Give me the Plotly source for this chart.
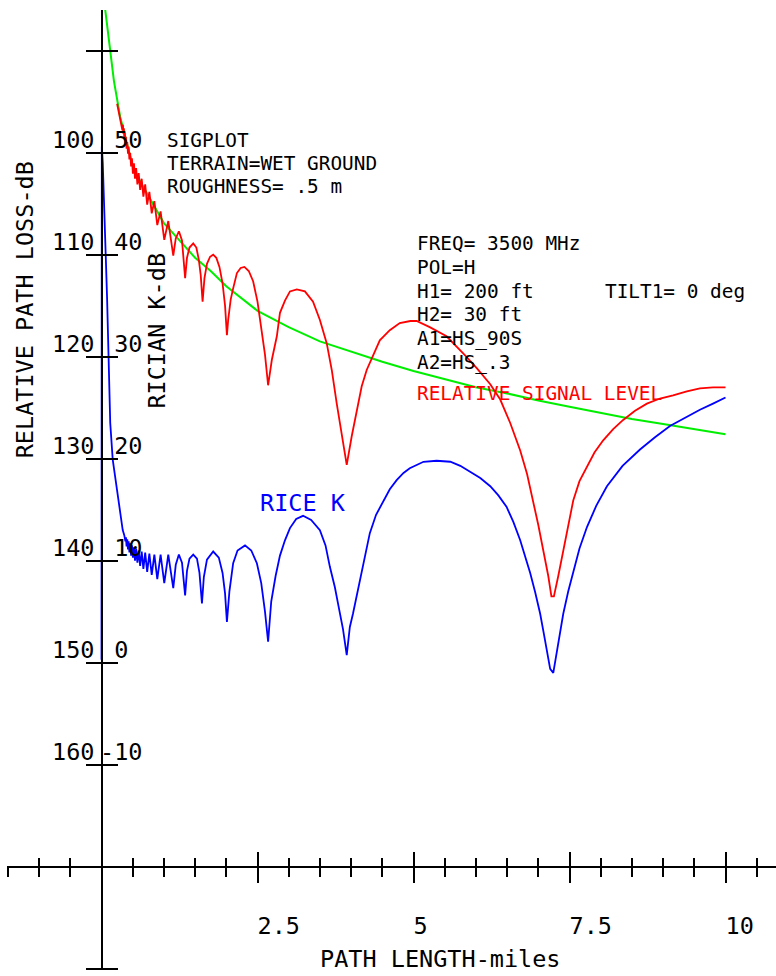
import plotly.graph_objects as go

# ---- data -------------------------------------------------------------
# smooth path-loss trend (green), miles vs relative loss in dB
trend_x = [0.05, 0.10, 0.15, 0.20, 0.30, 0.40, 0.50, 0.60, 0.80, 1.00, 1.25, 1.50,
           1.75, 2.00, 2.50, 3.00, 3.50, 4.00, 4.50, 5.00, 5.50, 6.00, 6.50, 7.00,
           7.50, 8.00, 8.50, 9.00, 9.50, 10.00]
trend_loss = [85.5, 88.0, 91.0, 93.0, 96.5, 99.0, 101.3, 102.6, 104.8, 106.9, 108.6, 110.3,
              111.6, 113.1, 115.5, 117.1, 118.5, 119.5, 120.5, 121.4, 122.2, 123.0, 123.6, 124.3,
              124.9, 125.5, 126.1, 126.6, 127.1, 127.6]

# relative signal level (red), miles vs relative loss in dB
signal_x = [0.25, 0.29, 0.31, 0.322, 0.335, 0.343, 0.35, 0.358, 0.366, 0.375, 0.383, 0.392,
            0.402, 0.413, 0.424, 0.435, 0.447, 0.46, 0.474, 0.488, 0.503, 0.52, 0.537, 0.555,
            0.575, 0.596, 0.619, 0.644, 0.671, 0.70, 0.732, 0.767, 0.805, 0.847, 0.894, 0.947,
            1.006, 1.07, 1.15, 1.19, 1.24, 1.29, 1.34, 1.37, 1.41, 1.47, 1.52, 1.56,
            1.59, 1.62, 1.65, 1.69, 1.74, 1.79, 1.84, 1.89, 1.94, 1.98, 2.01, 2.03,
            2.07, 2.11, 2.17, 2.23, 2.29, 2.36, 2.43, 2.50, 2.54, 2.58, 2.62, 2.67,
            2.73, 2.81, 2.86, 2.94, 3.02, 3.13, 3.26, 3.39, 3.50, 3.61, 3.69, 3.77,
            3.85, 3.93, 4.01, 4.09, 4.17, 4.25, 4.36, 4.46, 4.62, 4.78, 4.95, 5.05,
            5.26, 5.53, 5.80, 6.01, 6.23, 6.39, 6.55, 6.71, 6.82, 6.92, 7.00, 7.08,
            7.16, 7.21, 7.25, 7.32, 7.40, 7.48, 7.56, 7.66, 7.78, 7.90, 8.04, 8.20,
            8.36, 8.55, 8.74, 8.95, 9.16, 9.38, 9.59, 9.80, 10.00]
signal_loss = [95.2, 96.3, 96.9, 97.3, 97.8, 97.25, 98.15, 97.6, 98.6, 98.05, 99.1, 98.45,
               99.6, 98.95, 100.1, 99.4, 100.65, 100.0, 101.35, 100.55, 102.05, 101.05, 102.55, 101.5,
               103.1, 102.0, 103.65, 102.55, 104.3, 103.1, 105.1, 103.85, 105.95, 104.75, 107.1, 105.75,
               108.55, 106.7, 110.1, 108.4, 107.7, 108.6, 112.3, 110.3, 109.3, 108.9, 109.3, 110.5,
               112.0, 114.6, 112.3, 110.9, 110.2, 110.0, 110.3, 111.2, 112.8, 115.0, 117.9, 116.4,
               114.4, 113.3, 111.8, 111.3, 111.2, 111.6, 112.6, 114.6, 116.4, 118.0, 119.8, 122.8,
               120.3, 118.0, 115.7, 114.5, 113.6, 113.4, 113.6, 114.6, 116.4, 118.7, 121.3, 124.6,
               127.5, 130.6, 127.8, 125.2, 122.9, 121.3, 119.7, 118.4, 117.4, 116.7, 116.5, 116.5,
               117.1, 118.0, 119.7, 121.1, 122.7, 124.2, 126.5, 129.2, 131.5, 134.1, 136.5, 139.0,
               141.5, 143.5, 143.5, 141.5, 139.0, 136.5, 134.1, 132.2, 130.8, 129.4, 128.2, 127.1,
               126.2, 125.3, 124.6, 124.1, 123.8, 123.4, 123.1, 123.0, 123.0]

# Rician K factor (blue), miles vs K in dB
rice_x = [0.0, 0.005, 0.02, 0.05, 0.07, 0.09, 0.11, 0.14, 0.18, 0.24, 0.30, 0.34,
          0.365, 0.383, 0.392, 0.402, 0.413, 0.424, 0.435, 0.447, 0.46, 0.474, 0.488, 0.503,
          0.52, 0.537, 0.555, 0.575, 0.596, 0.619, 0.644, 0.671, 0.70, 0.732, 0.767, 0.805,
          0.847, 0.894, 0.947, 1.006, 1.07, 1.15, 1.19, 1.24, 1.29, 1.34, 1.37, 1.41,
          1.47, 1.53, 1.57, 1.61, 1.64, 1.69, 1.79, 1.88, 1.94, 1.98, 2.01, 2.05,
          2.11, 2.18, 2.30, 2.40, 2.49, 2.56, 2.62, 2.67, 2.72, 2.79, 2.86, 2.94,
          3.02, 3.12, 3.23, 3.36, 3.50, 3.59, 3.66, 3.74, 3.80, 3.87, 3.93, 3.98,
          4.03, 4.14, 4.22, 4.30, 4.40, 4.52, 4.62, 4.73, 4.84, 4.94, 5.05, 5.16,
          5.37, 5.59, 5.75, 5.91, 6.07, 6.23, 6.36, 6.49, 6.60, 6.71, 6.79, 6.87,
          6.95, 7.03, 7.09, 7.14, 7.19, 7.24, 7.29, 7.35, 7.40, 7.48, 7.56, 7.66,
          7.78, 7.93, 8.10, 8.35, 8.63, 8.87, 9.11, 9.35, 9.59, 9.80, 10.00]
rice_k = [0.3, 50.6, 49.0, 44.4, 39.5, 35.6, 30.7, 23.5, 19.9, 17.3, 14.7, 13.0,
          12.5, 11.9, 12.3, 11.4, 12.1, 11.1, 11.9, 10.8, 11.7, 10.5, 11.5, 10.3,
          11.3, 10.0, 11.2, 9.8, 11.0, 9.5, 10.9, 9.2, 10.8, 8.9, 10.7, 8.6,
          10.6, 8.2, 10.6, 7.8, 10.6, 7.3, 9.6, 10.6, 9.8, 6.6, 9.0, 10.2,
          10.6, 10.2, 8.8, 5.8, 8.4, 10.1, 10.9, 10.3, 8.8, 6.8, 4.0, 7.0,
          9.75, 11.0, 11.5, 11.0, 9.75, 7.8, 5.0, 2.06, 6.0, 8.5, 10.5, 12.0,
          13.2, 14.1, 14.4, 14.0, 13.0, 11.5, 9.4, 7.4, 5.5, 3.3, 0.75, 3.5,
          4.8, 8.1, 10.5, 12.7, 14.5, 15.95, 17.0, 17.9, 18.6, 19.06, 19.4, 19.7,
          19.8, 19.7, 19.3, 18.7, 18.1, 17.3, 16.4, 15.3, 13.8, 12.0, 10.4, 8.8,
          6.9, 4.8, 2.8, 0.9, -0.6, -1.0, 0.9, 3.0, 4.8, 7.0, 8.8, 11.2,
          13.3, 15.4, 17.3, 19.3, 20.9, 22.1, 23.2, 24.0, 24.8, 25.4, 26.0]

LOSS_TICKS = [100, 110, 120, 130, 140, 150, 160]
K_TICKS = [50, 40, 30, 20, 10, 0, -10]
MILE_TICKS = [2.5, 5, 7.5, 10]

# ---- page geometry ----------------------------------------------------
W, H = 776, 976
X0_PX, PX_PER_MILE = 101.5, 62.4      # x = 0 at the vertical axis
Y100_PX, PX_PER_DB = 152.7, 10.2      # 100 dB loss tick
AXIS_LEFT_PX, AXIS_TOP_PX, AXIS_BOTTOM_PX = 7, 10, 970

x_lo = (AXIS_LEFT_PX - X0_PX) / PX_PER_MILE
x_hi = (W - X0_PX) / PX_PER_MILE
loss_top = 100 + (AXIS_TOP_PX - Y100_PX) / PX_PER_DB
loss_bot = 100 + (AXIS_BOTTOM_PX - Y100_PX) / PX_PER_DB
K_OFFSET = 150                         # K(dB) = 150 - loss(dB)
XAXIS_LOSS = 170                       # horizontal axis drawn at this loss level

FONT = "DejaVu Sans Mono"
FS = 23.5          # axis labels and titles
FS_NOTE = 19.4     # stacked parameter lines
NB = "\u00a0"

fig = go.Figure()
fig.add_trace(go.Scatter(x=trend_x, y=trend_loss, mode="lines",
                         line=dict(color="#00ee00", width=2), yaxis="y"))
fig.add_trace(go.Scatter(x=signal_x, y=signal_loss, mode="lines",
                         line=dict(color="#ff0000", width=1.8), yaxis="y"))
fig.add_trace(go.Scatter(x=rice_x, y=rice_k, mode="lines",
                         line=dict(color="#0000ff", width=1.8), yaxis="y2"))
# keeps the overlay axes (upper / right halves of the cross ticks) alive
fig.add_trace(go.Scatter(x=[None], y=[None], xaxis="x2", yaxis="y3", showlegend=False))

x_pos = 1 - (Y100_PX + (XAXIS_LOSS - 100) * PX_PER_DB) / H
y_pos = X0_PX / W
x_dom = [AXIS_LEFT_PX / W, 1]
y_dom = [1 - AXIS_BOTTOM_PX / H, 1 - AXIS_TOP_PX / H]

mile_vals = [0] + MILE_TICKS
mile_text = [""] + [NB * len(f"{v:g}") + f"{v:g}" for v in MILE_TICKS]

common_x = dict(range=[x_lo, x_hi], domain=x_dom, anchor="free", position=x_pos,
                showgrid=False, zeroline=False, tickcolor="black", tickwidth=2,
                ticklen=15, tickmode="array", tickvals=mile_vals)
minor_x = dict(dtick=0.5, tick0=0, ticklen=9, tickwidth=2, tickcolor="black", showgrid=False)
common_y = dict(range=[loss_bot, loss_top], domain=y_dom, anchor="free", position=y_pos,
                showgrid=False, zeroline=False, ticklen=15, tickwidth=2, tickcolor="black",
                tickmode="linear", tick0=90, dtick=10, showticklabels=False)

fig.update_layout(
    width=W, height=H, margin=dict(l=0, r=0, t=0, b=0),
    paper_bgcolor="white", plot_bgcolor="white", showlegend=False,
    font=dict(family=FONT, size=FS, color="black"),
    xaxis=dict(**common_x, ticks="outside", showline=True, linecolor="black", linewidth=2,
               ticktext=mile_text, ticklabelstandoff=23,
               minor=dict(**minor_x, ticks="outside")),
    xaxis2=dict(**common_x, overlaying="x", ticks="inside", showline=False,
                showticklabels=False, minor=dict(**minor_x, ticks="inside")),
    yaxis=dict(**common_y, ticks="outside", showline=True, linecolor="black", linewidth=2),
    yaxis3=dict(**common_y, overlaying="y", ticks="inside", showline=False),
    yaxis2=dict(range=[K_OFFSET - loss_bot, K_OFFSET - loss_top], domain=y_dom,
                overlaying="y", anchor="free", position=y_pos, visible=False),
)

ann = []
for v in LOSS_TICKS:
    ann.append(dict(text=str(v), x=0, y=v, xref="x", yref="y", xanchor="right",
                    yanchor="middle", xshift=-6, yshift=13, showarrow=False))
for v, k in zip(LOSS_TICKS, K_TICKS):
    lab = str(k) if k < 0 else NB + str(k)
    ann.append(dict(text=lab, x=0, y=v, xref="x", yref="y", xanchor="left",
                    yanchor="middle", xshift=-4, yshift=13, showarrow=False))


def note(text, x, y, color="black", size=FS_NOTE):
    ann.append(dict(text=text.replace(" ", NB), x=x, y=y, xref="x", yref="y",
                    xanchor="left", yanchor="middle", showarrow=False,
                    font=dict(color=color, size=size)))


note("SIGPLOT", 1.02, 98.8)
note("TERRAIN=WET GROUND", 1.02, 101.07)
note("ROUGHNESS= .5 m", 1.02, 103.35)
note("FREQ= 3500 MHz", 5.02, 108.88)
note("POL=H", 5.02, 111.22)
note("H1= 200 ft", 5.02, 113.57)
note("TILT1= 0 deg", 8.04, 113.57)
note("H2= 30 ft", 5.02, 115.91)
note("A1=HS_90S", 5.02, 118.26)
note("A2=HS_.3", 5.02, 120.6)
note("RELATIVE SIGNAL LEVEL", 5.02, 123.6, color="#ff0000")
note("RICE K", 2.51, 134.3, color="#0000ff", size=FS)

ann.append(dict(text="RELATIVE PATH LOSS-dB".replace(" ", NB), x=-1.226, y=115.45,
                xref="x", yref="y", textangle=-90, showarrow=False,
                xanchor="center", yanchor="middle"))
ann.append(dict(text="RICIAN K-dB".replace(" ", NB), x=0.896, y=117.4,
                xref="x", yref="y", textangle=-90, showarrow=False,
                xanchor="center", yanchor="middle"))
ann.append(dict(text="PATH LENGTH-miles".replace(" ", NB), x=5.425, y=179.05,
                xref="x", yref="y", showarrow=False, xanchor="center", yanchor="middle"))

fig.update_layout(annotations=ann)
fig.write_html("out.html")
